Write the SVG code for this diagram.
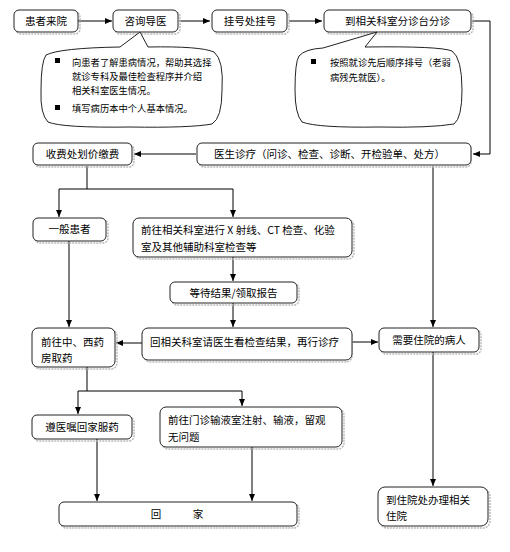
<svg xmlns="http://www.w3.org/2000/svg" width="510" height="552" viewBox="0 0 510 552">
<defs>
<marker id="ah" markerWidth="8" markerHeight="8" refX="7" refY="4" orient="auto" markerUnits="userSpaceOnUse">
<path d="M0,1 L7,4 L0,7 Z" fill="#000"/>
</marker>
</defs>
<style>
.box{fill:#fff;stroke:#222;stroke-width:1}
.sh{fill:none;stroke:#bbb;stroke-width:1.5;stroke-dasharray:2 1}
.t{font-family:"Noto Sans CJK SC","Noto Sans",sans-serif;font-size:10.5px;fill:#000}
.s{font-family:"Noto Sans CJK SC","Noto Sans",sans-serif;font-size:9.3px;fill:#000}
.c{text-anchor:middle}
.ln{fill:none;stroke:#000;stroke-width:1}
.arr{fill:none;stroke:#000;stroke-width:1;marker-end:url(#ah)}
.bub{fill:#fff;stroke:#222;stroke-width:1}
</style>
<rect width="510" height="552" fill="#fff"/>

<g id="connectors">
<line class="arr" x1="78" y1="21" x2="112" y2="21"/>
<line class="arr" x1="179" y1="21" x2="210" y2="21"/>
<line class="arr" x1="289" y1="21" x2="322" y2="21"/>
<polyline class="arr" points="472,21 490,21 490,154 473,154"/>
<line class="arr" x1="196" y1="154" x2="134" y2="154"/>
<polyline class="ln" points="87,166 87,189"/>
<line class="ln" x1="59" y1="189" x2="233" y2="189"/>
<line class="arr" x1="59" y1="189" x2="59" y2="217"/>
<line class="arr" x1="233" y1="189" x2="233" y2="217"/>
<line class="arr" x1="233" y1="257" x2="233" y2="281"/>
<line class="arr" x1="233" y1="303" x2="233" y2="327"/>
<line class="arr" x1="69" y1="241" x2="69" y2="327"/>
<line class="arr" x1="433" y1="166" x2="433" y2="327"/>
<line class="arr" x1="142" y1="343" x2="116" y2="343"/>
<line class="arr" x1="352" y1="342" x2="378" y2="342"/>
<line class="arr" x1="433" y1="352" x2="433" y2="486"/>
<polyline class="ln" points="87,367 87,391"/>
<line class="ln" x1="78" y1="391" x2="242" y2="391"/>
<line class="arr" x1="78" y1="391" x2="78" y2="414"/>
<line class="arr" x1="242" y1="391" x2="242" y2="406"/>
<line class="arr" x1="97" y1="439" x2="97" y2="501"/>
<line class="arr" x1="252" y1="447" x2="252" y2="501"/>
</g>

<g id="n1">
<rect class="sh" x="16" y="12" width="64" height="22" rx="5"/>
<rect class="box" x="14" y="10" width="64" height="22" rx="5"/>
<text class="t c" x="46" y="25">患者来院</text>
</g>
<g id="n2">
<rect class="sh" x="115" y="12" width="65" height="22" rx="5"/>
<rect class="box" x="113" y="10" width="65" height="22" rx="5"/>
<text class="t c" x="145.5" y="25">咨询导医</text>
</g>
<g id="n3">
<rect class="sh" x="214" y="12" width="75" height="22" rx="5"/>
<rect class="box" x="212" y="10" width="75" height="22" rx="5"/>
<text class="t c" x="250" y="25">挂号处挂号</text>
</g>
<g id="n4">
<rect class="sh" x="326" y="12" width="147" height="22" rx="5"/>
<rect class="box" x="324" y="10" width="147" height="22" rx="5"/>
<text class="t c" x="397.5" y="25">到相关科室分诊台分诊</text>
</g>

<g id="callout1">
<path class="bub" d="M120,47 L140,32 L148,47 Q200,46 214,52 Q224,60 222,90 Q222,118 212,124 Q190,128 130,127 Q62,128 48,122 Q40,114 41,90 Q41,62 46,55 Q60,48 120,47 Z"/>
<rect x="55" y="58" width="5" height="5" fill="#000"/>
<text class="s" x="72" y="66">向患者了解患病情况，帮助其选择</text>
<text class="s" x="72" y="80">就诊专科及最佳检查程序并介绍</text>
<text class="s" x="72" y="94">相关科室医生情况。</text>
<rect x="55" y="105" width="5" height="5" fill="#000"/>
<text class="s" x="72" y="112">填写病历本中个人基本情况。</text>
</g>

<g id="callout2">
<path class="bub" d="M323,48 L377,32 L365,47 Q440,46 452,51 Q462,58 462,90 Q462,118 454,124 Q430,128 378,127 Q318,128 302,122 Q295,114 295,90 Q295,62 299,56 Q305,49 323,48 Z"/>
<rect x="311" y="59" width="5" height="5" fill="#000"/>
<text class="s" x="330" y="66">按照就诊先后顺序排号（老弱</text>
<text class="s" x="330" y="81">病残先就医）。</text>
</g>

<g id="n5">
<rect class="sh" x="35" y="145" width="99" height="22" rx="5"/>
<rect class="box" x="33" y="143" width="99" height="22" rx="5"/>
<text class="t c" x="82.5" y="158">收费处划价缴费</text>
</g>
<g id="n6">
<rect class="sh" x="199" y="145" width="272" height="22" rx="5"/>
<rect class="box" x="197" y="143" width="274" height="22" rx="5"/>
<text class="t" x="214" y="158">医生诊疗（问诊、检查、诊断、开检验单、处方）</text>
</g>
<g id="n7">
<rect class="sh" x="35" y="220" width="73" height="23" rx="5"/>
<rect class="box" x="33" y="218" width="73" height="23" rx="5"/>
<text class="t c" x="69.5" y="233">一般患者</text>
</g>
<g id="n8">
<rect class="sh" x="135" y="220" width="219" height="39" rx="6"/>
<rect class="box" x="133" y="218" width="219" height="39" rx="6"/>
<text class="t" x="141" y="234">前往相关科室进行 X 射线、CT 检查、化验</text>
<text class="t" x="141" y="251">室及其他辅助科室检查等</text>
</g>
<g id="n9">
<rect class="sh" x="172" y="284" width="127" height="21" rx="5"/>
<rect class="box" x="170" y="282" width="127" height="21" rx="5"/>
<text class="t c" x="233.5" y="297">等待结果/领取报告</text>
</g>
<g id="n10">
<rect class="sh" x="34" y="330" width="83" height="39" rx="6"/>
<rect class="box" x="32" y="328" width="83" height="39" rx="6"/>
<text class="t" x="41" y="346">前往中、西药</text>
<text class="t" x="41" y="362">房取药</text>
</g>
<g id="n11">
<rect class="sh" x="144" y="330" width="208" height="32" rx="6"/>
<rect class="box" x="142" y="328" width="210" height="32" rx="6"/>
<text class="t" x="150" y="346">回相关科室请医生看检查结果，再行诊疗</text>
</g>
<g id="n12">
<rect class="sh" x="381" y="330" width="100" height="24" rx="5"/>
<rect class="box" x="379" y="328" width="100" height="24" rx="5"/>
<text class="t c" x="429" y="344">需要住院的病人</text>
</g>
<g id="n13">
<rect class="sh" x="34" y="417" width="100" height="24" rx="5"/>
<rect class="box" x="32" y="415" width="100" height="24" rx="5"/>
<text class="t c" x="82" y="431">遵医嘱回家服药</text>
</g>
<g id="n14">
<rect class="sh" x="162" y="409" width="182" height="40" rx="6"/>
<rect class="box" x="160" y="407" width="182" height="40" rx="6"/>
<text class="t" x="168" y="424">前往门诊输液室注射、输液，留观</text>
<text class="t" x="168" y="441">无问题</text>
</g>
<g id="n15">
<rect class="sh" x="61" y="504" width="238" height="24" rx="5"/>
<rect class="box" x="59" y="502" width="238" height="24" rx="5"/>
<text class="t c" x="156" y="518">回</text>
<text class="t c" x="198" y="518">家</text>
</g>
<g id="n16">
<rect class="sh" x="380" y="489" width="110" height="39" rx="7"/>
<rect class="box" x="378" y="487" width="110" height="39" rx="7"/>
<text class="t" x="386" y="504">到住院处办理相关</text>
<text class="t" x="386" y="520">住院</text>
</g>
</svg>
